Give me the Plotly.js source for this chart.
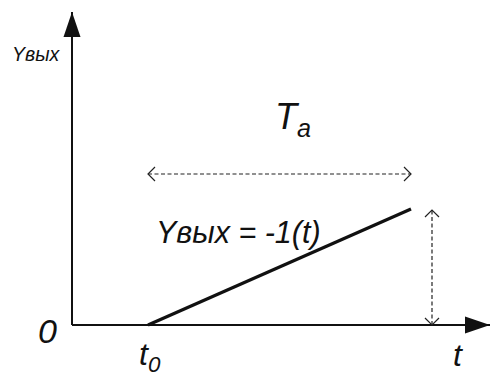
<!DOCTYPE html>
<html><head><meta charset="utf-8">
<script src="https://cdn.plot.ly/plotly-3.0.1.min.js"></script>
<style>html,body{margin:0;padding:0;background:#fff;overflow:hidden}</style>
</head><body><div id="chart" style="width:491px;height:372px"></div>
<script>
// ---- data (arbitrary units, origin at the axes corner) ----
const axisT = [0, 418];        // t axis: origin -> arrow tip
const axisY = [0, 313];        // Y axis: origin -> arrow tip
const rampT = [76, 339];       // ramp: t0 -> end
const rampY = [0, 116];        // ramp output values
const spanT = [76, 339];       // Ta dimension (horizontal)
const spanLevel = [151, 151];  // level of the Ta dimension line
const riseT = [360, 360];      // vertical dimension position
const riseY = [0, 115];        // vertical dimension extent
const labelText = ['Yвых', 'T<sub>a</sub>', 'Yвых = -1(t)', '0', 't<sub>0</sub>', 't'];

// ---- styles ----
const FONT = 'Liberation Sans, Arial, sans-serif';
const HEAD_LEN = 25, HEAD_HALF = 8.5, CHEV = 7;

function chevron(tx, ty, dx, dy) {
  // open arrowhead at (tx,ty) pointing in direction (dx,dy)
  const px = -dy, py = dx;
  return {
    x: [tx - dx*CHEV + px*CHEV, tx, tx - dx*CHEV - px*CHEV],
    y: [ty - dy*CHEV + py*CHEV, ty, ty - dy*CHEV - py*CHEV],
    mode: 'lines', line: {color: '#222', width: 1.2}, hoverinfo: 'skip'
  };
}
function head(tx, ty, dx, dy) {
  const px = -dy, py = dx;
  const bx = tx - dx*HEAD_LEN, by = ty - dy*HEAD_LEN;
  return {
    type: 'path', line: {width: 0}, fillcolor: '#111',
    path: `M${tx},${ty} L${bx + px*HEAD_HALF},${by + py*HEAD_HALF} L${bx - px*HEAD_HALF},${by - py*HEAD_HALF} Z`
  };
}

const traces = [
  {x: axisT, y: [0, 0], mode: 'lines', line: {color: '#111', width: 2}},
  {x: [0, 0], y: axisY, mode: 'lines', line: {color: '#111', width: 2}},
  {x: rampT, y: rampY, mode: 'lines', line: {color: '#111', width: 3.2}},
  {x: spanT, y: spanLevel, mode: 'lines', line: {color: '#222', width: 1.2, dash: '4px,2.5px'}},
  {x: riseT, y: riseY, mode: 'lines', line: {color: '#222', width: 1.2, dash: '4px,2.5px'}},
  chevron(spanT[0], spanLevel[0], -1, 0),
  chevron(spanT[1], spanLevel[1], 1, 0),
  chevron(riseT[1], riseY[1], 0, 1),
  chevron(riseT[0], riseY[0], 0, -1)
];

const ann = (text, x, y, size) => ({
  text, x, y, xref: 'x', yref: 'y', showarrow: false,
  xanchor: 'center', yanchor: 'middle',
  font: {family: FONT, size, color: '#111', style: 'italic'}
});

const layout = {
  width: 491, height: 372,
  margin: {l: 0, r: 0, t: 0, b: 0},
  paper_bgcolor: '#fff', plot_bgcolor: '#fff',
  showlegend: false,
  xaxis: {range: [-72, 419], visible: false, fixedrange: true},
  yaxis: {range: [-47, 325], visible: false, fixedrange: true},
  shapes: [head(axisT[1], 0, 1, 0), head(0, axisY[1], 0, 1)],
  annotations: [
    ann(labelText[0], -36, 271, 19.5),
    ann(labelText[1], 221, 206, 36),
    ann(labelText[2], 166, 93, 30.5),
    ann(labelText[3], -24.5, -5.5, 34),
    ann(labelText[4], 78, -31, 32),
    ann(labelText[5], 385.5, -29.5, 32)
  ]
};

Plotly.newPlot('chart', traces, layout, {staticPlot: true, displayModeBar: false});
</script></body></html>
